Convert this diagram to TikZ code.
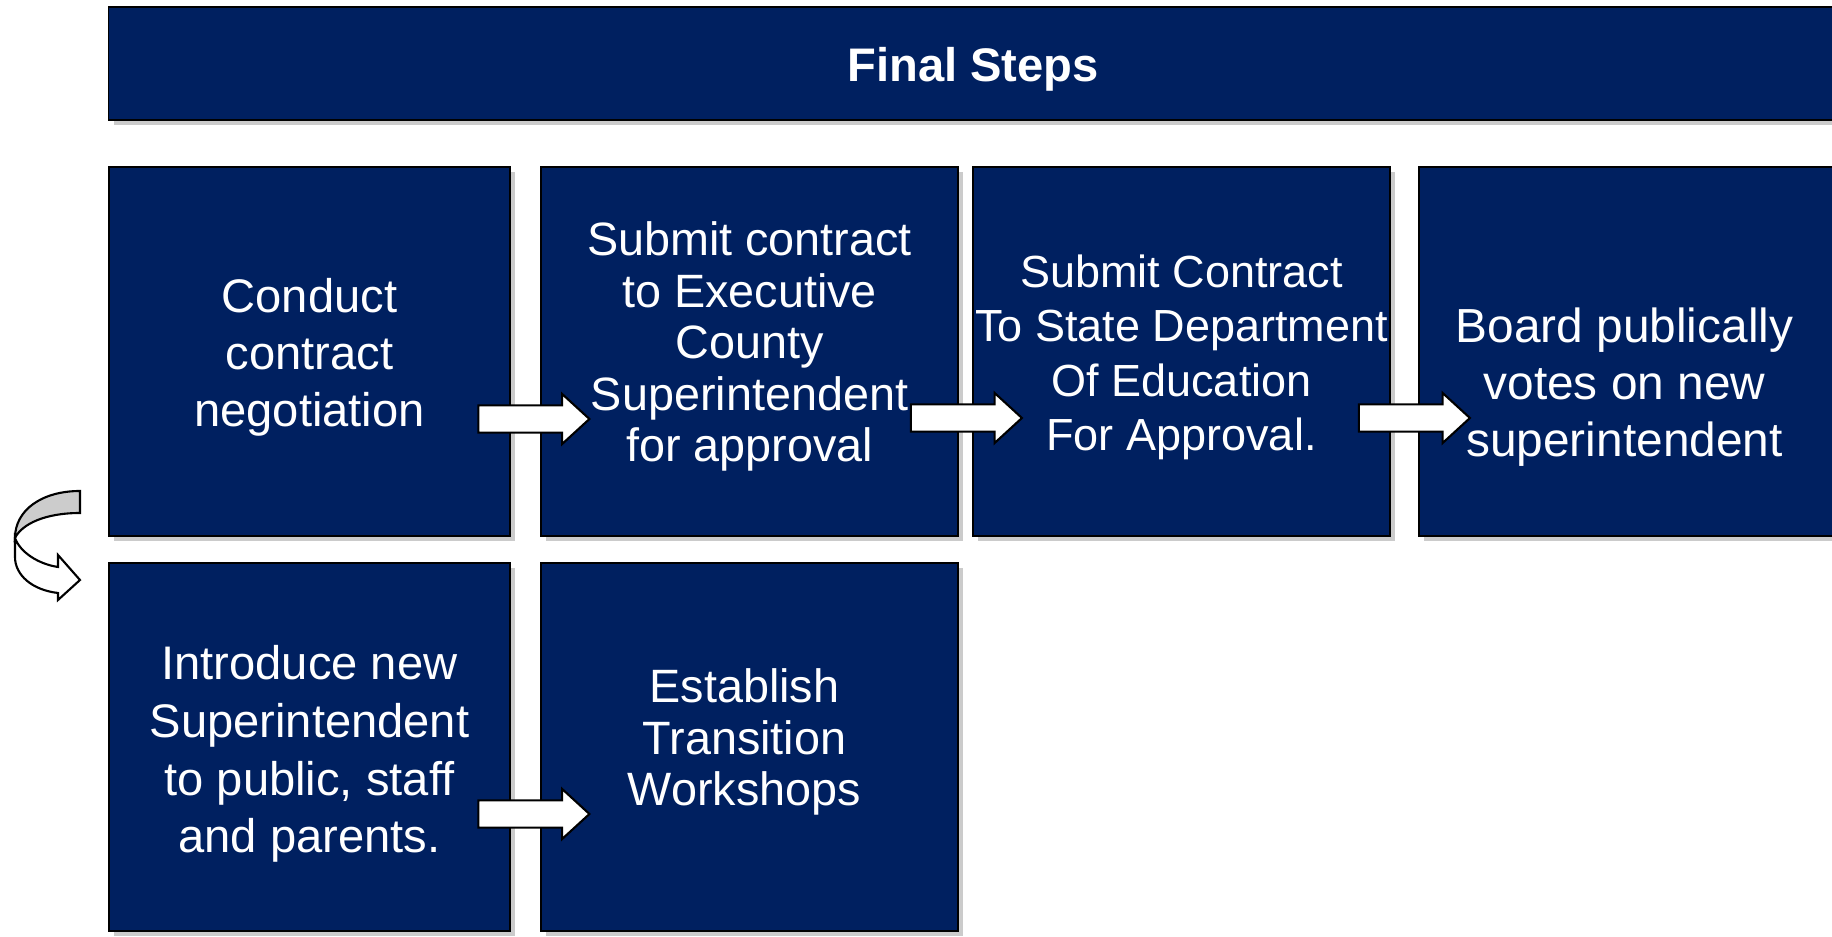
\documentclass[tikz,border=0pt]{standalone}
\usepackage{fontspec}
\setmainfont{Liberation Sans}
\usetikzlibrary{shapes.arrows,shadows}
\definecolor{navy}{RGB}{0,32,96}
\begin{document}
\begin{tikzpicture}[x=0.01cm,y=-0.01cm,
  stepbox/.style={rectangle, draw=black, line width=0.5pt, fill=navy, text=white, align=center,
    minimum width=4.17cm, minimum height=3.69cm, inner sep=0pt,
    drop shadow={shadow xshift=0.05cm, shadow yshift=-0.05cm, fill=black!45, opacity=0.45}},
  steptext/.style={text=white, align=center, inner sep=0pt, font=\fontsize{13.4pt}{16.2pt}\selectfont},
  banner/.style={stepbox, minimum width=17.27cm, minimum height=1.13cm},
  blockarrow/.style={single arrow, draw=black, line width=0.6pt, fill=white, inner sep=0pt,
    minimum height=1.11cm, text height=0.25cm, text depth=0pt,
    single arrow head extend=0.115cm, single arrow tip angle=85}]
\clip (0,0) rectangle (1832,937);
\node[banner] (title) at (972.5,63.5) {};
\node[steptext, font=\bfseries\fontsize{13.4pt}{16pt}\selectfont] (ttl) at (973,69) {Final Steps};
\node[stepbox, minimum width=4.01cm] (box0) at (309.5,351.5) {};
\node[stepbox] (box1) at (749.5,351.5) {};
\node[stepbox] (box2) at (1181.5,351.5) {};
\node[stepbox] (box3) at (1627.5,351.5) {};
\node[stepbox, minimum width=4.01cm, minimum height=3.68cm] (box4) at (309.5,747) {};
\node[stepbox, minimum height=3.68cm] (box5) at (749.5,747) {};
\node[steptext] (txt0) at (309.5,357.5) {Conduct\\contract\\negotiation};
\node[steptext, font=\fontsize{13.3pt}{14.65pt}\selectfont] (txt1) at (749.5,346.5) {Submit contract\\to Executive\\County\\Superintendent\\for approval};
\node[steptext, font=\fontsize{12.8pt}{15.5pt}\selectfont] (txt2) at (1181.5,357.5) {Submit Contract\\To State Department\\Of Education\\For Approval.};
\node[steptext, font=\fontsize{13.6pt}{16.2pt}\selectfont] (txt3) at (1624.5,387.5) {Board publically\\votes on new\\superintendent};
\node[steptext, font=\fontsize{13.4pt}{16.4pt}\selectfont] (txt4) at (309.5,754) {Introduce new\\Superintendent\\to public, staff\\and parents.};
\node[steptext, font=\fontsize{13.3pt}{14.65pt}\selectfont] (txt5) at (744.5,742) {Establish\\Transition\\Workshops};
\node[blockarrow] (arr0) at (526.5,419) {};
\node[blockarrow] (arr1) at (959,418) {};
\node[blockarrow] (arr2) at (1407,418) {};
\node[blockarrow] (arr3) at (526.5,814) {};
% curved arrow to the second row
\draw[line width=0.6pt, fill=white] (15,538) .. controls (20,552) and (38,564) .. (58,567) -- (58,555) -- (80,580)
  -- (58,600) -- (58,593) .. controls (32,590) and (15,575) .. (15,557) -- cycle;
\draw[line width=0.6pt, fill=black!20] (80,491) .. controls (42,491) and (15,510) .. (15,538)
  .. controls (22,524) and (45,513) .. (80,513) -- cycle;
\end{tikzpicture}
\end{document}
